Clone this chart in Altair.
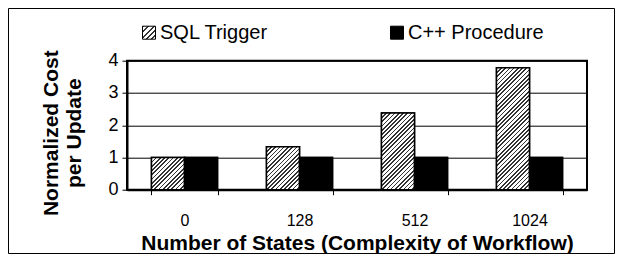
import math
import json
import altair as alt
import pandas as pd

# ---- data ----
states = ["0", "128", "512", "1024"]
series = ["SQL Trigger", "C++ Procedure"]
sql_trigger = [1.0, 1.33, 2.38, 3.78]
cpp_procedure = [1.0, 1.0, 1.0, 1.0]

rows = []
for s, v in zip(states, sql_trigger):
    rows.append({"states": s, "series": series[0], "value": v})
for s, v in zip(states, cpp_procedure):
    rows.append({"states": s, "series": series[1], "value": v})
df = pd.DataFrame(rows)

# ---- layout ----
W_PLOT = 460
H_PLOT = 129
PAD_INNER = 0.426
BAR_W = W_PLOT / 4 * (1 - PAD_INNER) / 2
PX = H_PLOT / 4
FONT = "Liberation Sans"


def make_stops(n, frac, dark, light):
    out = []
    for i in range(n):
        a = i / n
        b = (i + frac) / n
        c = (i + 1) / n
        out += [
            {"offset": round(a, 5), "color": dark},
            {"offset": round(b, 5), "color": dark},
            {"offset": round(b, 5), "color": light},
            {"offset": round(c, 5), "color": light},
        ]
    return out


# hatch as a hard-stop gradient, at 45 degrees in pixel space for each bar
N = 44
P = 3.0
bar_stops = make_stops(N, 0.4, "#333333", "#ffffff")
K0 = N * P * BAR_W * math.sqrt(2)
h = f"(datum.value*{PX})"
k = f"({K0}/({BAR_W * BAR_W}+{h}*{h}))"
grad_expr = (
    "{gradient:'linear',x1:0,y1:0,x2:" + k + ",y2:(" + k + "*" + h + "/" + str(BAR_W)
    + "),stops:" + json.dumps(bar_stops) + "}"
)
fill_expr = f"datum.series === 'SQL Trigger' ? {grad_expr} : 'black'"

legend_stops = make_stops(5, 0.4, "#333333", "#ffffff")
legend_grad = "{gradient:'linear',x1:0,y1:0,x2:1,y2:1,stops:" + json.dumps(legend_stops) + "}"

x_enc = alt.X(
    "states:N",
    sort=states,
    scale=alt.Scale(paddingInner=PAD_INNER, paddingOuter=PAD_INNER / 2),
    axis=alt.Axis(
        title="Number of States (Complexity of Workflow)",
        labelAngle=0,
        tickBand="extent",
        labelFontSize=16,
        labelPadding=18,
        titleFontSize=21,
        titleFontWeight="bold",
        titlePadding=4,
        grid=False,
    ),
)
xoff_enc = alt.XOffset("series:N", sort=series, scale=alt.Scale(paddingInner=0, paddingOuter=0))
y_enc = alt.Y(
    "value:Q",
    scale=alt.Scale(domain=[0, 4], nice=False),
    axis=alt.Axis(
        values=[0, 1, 2, 3, 4],
        title=["Normalized Cost", "per Update"],
        labelFontSize=18,
        labelPadding=4,
        titleFontSize=21,
        titleFontWeight="bold",
        titleLineHeight=23,
        titlePadding=23,
        titleY=72,
        grid=True,
    ),
)

frame = alt.Chart(alt.Data(values=[{"f": 1}])).mark_rect(
    fillOpacity=0, stroke="black", strokeWidth=1
).encode(
    x=alt.value(-118.5), x2=alt.value(487.5), y=alt.value(-52.2), y2=alt.value(192.8)
)

base = alt.Chart(df).mark_bar(stroke="black", strokeWidth=1.5).encode(
    x=x_enc,
    xOffset=xoff_enc,
    y=y_enc,
    color=alt.Color(
        "series:N",
        sort=series,
        scale=alt.Scale(domain=series, range=[{"expr": legend_grad}, "black"]),
        legend=alt.Legend(
            title=None,
            orient="none",
            legendX=12,
            legendY=-38,
            direction="horizontal",
            symbolType="square",
            symbolSize=169,
            symbolStrokeColor="black",
            symbolStrokeWidth=1,
            labelFontSize=20,
            labelFont=FONT,
            labelOffset=1,
            columnPadding=118,
        ),
    ),
)

hatch = alt.Chart(df).mark_bar(
    stroke="black", strokeWidth=1.5, fill={"expr": fill_expr}
).encode(x=x_enc, xOffset=xoff_enc, y=y_enc)

chart = (
    alt.layer(frame, base, hatch)
    .properties(
        width=W_PLOT,
        height=H_PLOT,
        autosize="none",
        padding={"left": 119, "top": 52.7, "right": 28, "bottom": 64.3},
    )
    .configure(font=FONT)
    .configure_view(stroke="black", strokeWidth=2)
    .configure_axis(
        labelFont=FONT,
        titleFont=FONT,
        labelColor="black",
        titleColor="black",
        domainColor="black",
        domainWidth=2,
        tickColor="black",
        tickSize=5,
        tickWidth=1,
        gridColor="black",
        gridWidth=1,
    )
)

chart.save("out.html", embed_options={"renderer": "svg", "actions": False})
